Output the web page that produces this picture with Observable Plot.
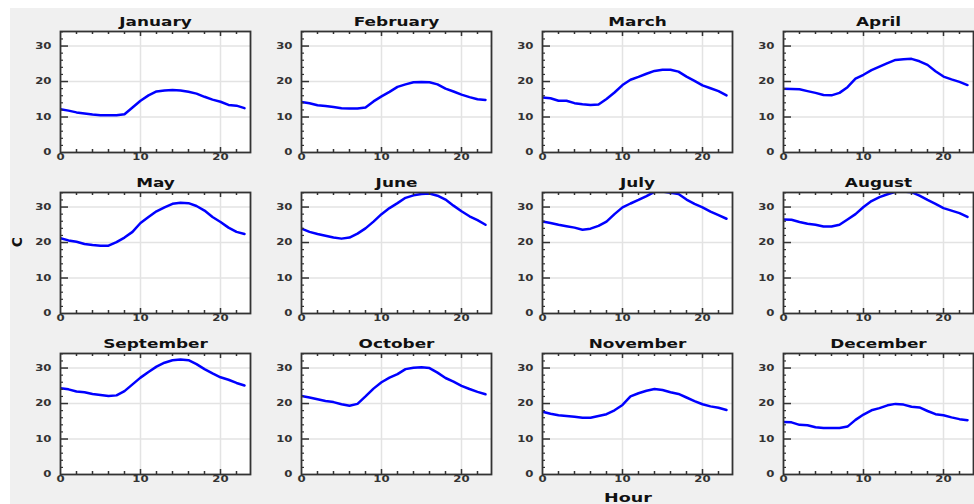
<!DOCTYPE html>
<html><head><meta charset="utf-8">
<script src="https://cdn.jsdelivr.net/npm/d3@7"></script>
<script src="https://cdn.jsdelivr.net/npm/@observablehq/plot@0.6"></script>
<style>
body{margin:0;background:#fff;}
#wrap{position:relative;width:974px;height:504px;overflow:hidden;font-family:"DejaVu Sans",sans-serif;}
#bg{position:absolute;left:10px;top:8px;right:0;bottom:0;background:#f0f0f0;}
#chart{position:absolute;left:0;top:0;}
.lab{position:absolute;font-weight:bold;color:#111;white-space:nowrap;line-height:1;}
#ylab{left:17px;top:242px;font-size:14px;transform:translate(-50%,-50%) rotate(-90deg);}
#xlab{left:628px;top:497px;font-size:13px;transform:translate(-50%,-50%) scaleX(1.35);}
</style></head><body>
<div id="wrap"><div id="bg"></div><div id="chart"></div>
<div class="lab" id="ylab">C</div><div class="lab" id="xlab">Hour</div></div>
<script>
const months = ["January","February","March","April","May","June","July","August","September","October","November","December"];
const hours = [0,1,2,3,4,5,6,7,8,9,10,11,12,13,14,15,16,17,18,19,20,21,22,23];
const jan = [12.2,11.8,11.3,11.0,10.7,10.5,10.5,10.5,10.8,12.7,14.6,16.1,17.2,17.5,17.6,17.5,17.1,16.6,15.7,14.9,14.3,13.4,13.2,12.5];
const feb = [14.2,13.9,13.3,13.1,12.8,12.5,12.4,12.4,12.7,14.4,15.8,17.1,18.5,19.2,19.8,19.9,19.8,19.2,18.0,17.2,16.3,15.6,15.0,14.8];
const mar = [15.5,15.3,14.6,14.6,13.9,13.6,13.4,13.5,15.1,16.9,19.0,20.5,21.3,22.2,23.0,23.3,23.3,22.8,21.4,20.2,18.9,18.1,17.3,16.1];
const apr = [18.0,17.9,17.8,17.3,16.8,16.2,16.1,16.8,18.4,20.8,21.9,23.2,24.2,25.2,26.1,26.3,26.4,25.7,24.7,22.9,21.4,20.6,19.9,19.0];
const may = [21.2,20.6,20.2,19.6,19.3,19.1,19.1,20.1,21.4,23.0,25.5,27.2,28.8,29.9,30.9,31.2,31.1,30.3,29.0,27.2,25.8,24.2,23.0,22.4];
const jun = [23.9,23.0,22.4,21.9,21.4,21.1,21.4,22.5,24.0,25.9,28.0,29.7,31.1,32.6,33.3,33.7,33.8,33.2,32.1,30.4,28.8,27.4,26.3,25.0];
const jul = [25.9,25.5,25.0,24.6,24.2,23.6,23.9,24.7,25.9,28.0,29.9,31.0,32.0,33.1,34.3,34.4,34.0,33.7,32.1,30.9,29.9,28.7,27.7,26.7];
const aug = [26.5,26.4,25.8,25.3,25.0,24.5,24.5,25.0,26.5,28.0,30.0,31.7,32.8,33.6,34.3,34.4,34.2,33.2,32.0,30.9,29.7,29.0,28.3,27.2];
const sep = [24.3,24.0,23.4,23.2,22.7,22.4,22.1,22.3,23.5,25.4,27.3,28.9,30.4,31.5,32.2,32.4,32.2,31.1,29.7,28.5,27.4,26.7,25.8,25.1];
const oct = [22.1,21.7,21.2,20.7,20.4,19.8,19.4,19.9,22.0,24.2,26.0,27.3,28.3,29.7,30.1,30.2,30.0,28.7,27.2,26.2,25.0,24.1,23.3,22.6];
const nov = [17.7,17.1,16.7,16.5,16.3,16.0,16.0,16.5,17.0,18.1,19.6,22.0,22.9,23.6,24.1,23.8,23.2,22.7,21.7,20.7,19.8,19.2,18.8,18.2];
const dec = [14.8,14.7,14.0,13.9,13.3,13.1,13.1,13.1,13.5,15.4,16.9,18.1,18.7,19.5,19.9,19.7,19.1,18.9,17.9,17.0,16.7,16.1,15.6,15.3];
const series = [jan,feb,mar,apr,may,jun,jul,aug,sep,oct,nov,dec];
const xTicks = [0,10,20];
const yTicks = [0,10,20,30];
const xMinor = [2,4,6,8,12,14,16,18,22];
const yMinor = [2,4,6,8,12,14,16,18,22,24,26,28,32,34];

// layout
const W = 974, H = 504, mL = 60, mR = 1, mT = 31, mB = 30;
const cols = 4, rows = 3, gapX = 51, gapY = 40;
const panelW = (W - mL - mR - gapX*(cols-1))/cols;
const panelH = (H - mT - mB - gapY*(rows-1))/rows;

const table = months.flatMap((m, i) => hours.map((h, j) => ({month: m, col: i % cols, row: Math.floor(i / cols), hour: h, temp: series[i][j]})));
const titles = months.map((m, i) => ({month: m, col: i % cols, row: Math.floor(i / cols)}));

const tickColor = "#333";
const gridColor = "#e3e3e3";
const labStyle = {fontSize: 9, fontWeight: "bold", fill: "#333"};

const svg = Plot.plot({
  width: W, height: H, marginLeft: mL, marginRight: mR, marginTop: mT, marginBottom: mB,
  style: {background: "transparent", fontFamily: "DejaVu Sans", overflow: "visible"},
  fx: {domain: [0,1,2,3], axis: null, paddingInner: gapX/(panelW+gapX), paddingOuter: 0, round: false},
  fy: {domain: [0,1,2], axis: null, paddingInner: gapY/(panelH+gapY), paddingOuter: 0, round: false},
  x: {domain: [0, 23.75], axis: null},
  y: {domain: [0, 34.1], axis: null},
  marks: [
    Plot.frame({fill: "white"}),
    Plot.ruleX([10, 20], {stroke: gridColor, strokeWidth: 1.5}),
    Plot.ruleY([10, 20, 30], {stroke: gridColor, strokeWidth: 1.5}),
    Plot.line(table, {x: "hour", y: "temp", fx: "col", fy: "row", z: "month", stroke: "blue", strokeWidth: 2.5, clip: true}),
    Plot.tickX([10, 20], {stroke: tickColor, strokeWidth: 1.5, insetBottom: panelH - 5}),
    Plot.tickX([10, 20], {stroke: tickColor, strokeWidth: 1.5, insetTop: panelH - 5}),
    Plot.tickX(xMinor, {stroke: tickColor, strokeWidth: 1.5, insetBottom: panelH - 3}),
    Plot.tickX(xMinor, {stroke: tickColor, strokeWidth: 1.5, insetTop: panelH - 3}),
    Plot.tickY([10, 20, 30], {stroke: tickColor, strokeWidth: 1.5, insetRight: panelW - 8}),
    Plot.tickY(yMinor, {stroke: tickColor, strokeWidth: 1.2, insetRight: panelW - 3}),
    Plot.frame({stroke: tickColor, strokeWidth: 1.8}),
    Plot.text(titles, {fx: "col", fy: "row", text: "month", frameAnchor: "top", dy: -15, fontWeight: "bold", fontSize: 13, fill: "#111"}),
    Plot.text(xTicks, {x: d => d, frameAnchor: "bottom", dy: 7, ...labStyle}),
    Plot.text(yTicks, {y: d => d, frameAnchor: "left", textAnchor: "end", dx: -9, ...labStyle})
  ]
});
document.getElementById("chart").appendChild(svg);

// widen the text horizontally, as in the reference (scale about each text's anchor)
svg.querySelectorAll("text").forEach(t => {
  let tr = t.getAttribute("transform") || "";
  const x = t.getAttribute("x");
  if (x !== null && /^-?[\d.]+$/.test(x)) {
    tr += ` translate(${x},0)`;
    t.removeAttribute("x");
  }
  t.setAttribute("transform", (tr + " scale(1.3,1)").trim());
});
</script>
</body></html>
